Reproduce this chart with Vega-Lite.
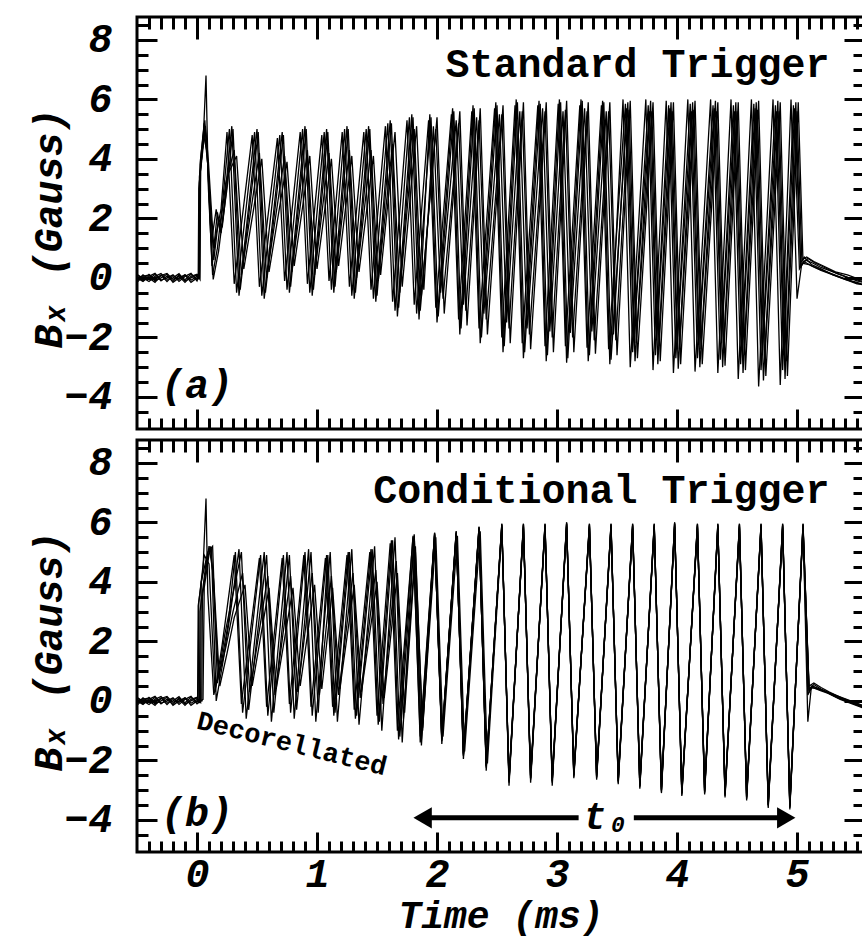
{
"$schema":"https://vega.github.io/schema/vega-lite/v6.json",
"background":"white",
"padding":{"left":27,"top":14,"right":0,"bottom":0},
"spacing":5,
"config":{"view":{"stroke":"black","strokeWidth":3},
"axis":{"grid":false,"domain":false,"tickColor":"black","tickWidth":3,"labelColor":"black","titleColor":"black","labelFont":"Liberation Mono","titleFont":"Liberation Mono","labelFontSize":40,"labelFontWeight":"bold","labelFontStyle":"italic","titleFontSize":40,"titleFontWeight":"bold","titleFontStyle":"italic","labelFlush":false,"labelOverlap":false},
"text":{"font":"Liberation Mono","color":"black"}},
"datasets":{
"a":[
{"s":1,"t":-0.5,"b":0.05},{"s":1,"t":-0.45,"b":-0.1},{"s":1,"t":-0.4,"b":0.12},{"s":1,"t":-0.35,"b":-0.05},{"s":1,"t":-0.3,"b":0.1},{"s":1,"t":-0.25,"b":-0.12},{"s":1,"t":-0.2,"b":0.08},{"s":1,"t":-0.15,"b":-0.05},{"s":1,"t":-0.1,"b":0.1},{"s":1,"t":-0.05,"b":-0.08},{"s":1,"t":0,"b":0.05},
{"s":1,"t":0.015,"b":0},{"s":1,"t":0.02,"b":3.4},{"s":1,"t":0.05,"b":4.5},{"s":1,"t":0.075,"b":6.8},{"s":1,"t":0.095,"b":3},{"s":1,"t":0.13,"b":0.1},{"s":1,"t":0.17,"b":1},{"s":1,"t":0.21,"b":2.4},
{"s":1,"t":0.27,"b":5},{"s":1,"t":0.33,"b":-0.5},{"s":1,"t":0.48,"b":4.9},{"s":1,"t":0.54,"b":-0.6},{"s":1,"t":0.69,"b":4.8},{"s":1,"t":0.75,"b":-0.4},{"s":1,"t":0.88,"b":5},{"s":1,"t":0.94,"b":-0.5},{"s":1,"t":1.06,"b":4.9},{"s":1,"t":1.12,"b":-0.4},{"s":1,"t":1.23,"b":5},{"s":1,"t":1.29,"b":-0.6},{"s":1,"t":1.41,"b":5},{"s":1,"t":1.47,"b":-0.7},{"s":1,"t":1.59,"b":5.2},{"s":1,"t":1.65,"b":-1.1},{"s":1,"t":1.77,"b":5.4},{"s":1,"t":1.83,"b":-1.2},{"s":1,"t":1.95,"b":5.4},{"s":1,"t":2.01,"b":-1.3},{"s":1,"t":2.14,"b":5.6},{"s":1,"t":2.2,"b":-1.7},{"s":1,"t":2.31,"b":5.7},{"s":1,"t":2.37,"b":-2},{"s":1,"t":2.5,"b":5.8},{"s":1,"t":2.56,"b":-2.3},{"s":1,"t":2.67,"b":5.9},{"s":1,"t":2.73,"b":-2.5},{"s":1,"t":2.86,"b":5.85},{"s":1,"t":2.92,"b":-2.6},{"s":1,"t":3.03,"b":5.9},{"s":1,"t":3.09,"b":-2.7},{"s":1,"t":3.21,"b":5.95},{"s":1,"t":3.27,"b":-2.6},{"s":1,"t":3.39,"b":5.9},{"s":1,"t":3.45,"b":-2.75},{"s":1,"t":3.59,"b":5.9},{"s":1,"t":3.65,"b":-2.8},{"s":1,"t":3.78,"b":5.95},{"s":1,"t":3.84,"b":-2.9},{"s":1,"t":3.95,"b":5.9},{"s":1,"t":4.01,"b":-3.05},{"s":1,"t":4.13,"b":5.9},{"s":1,"t":4.19,"b":-3},{"s":1,"t":4.32,"b":5.95},{"s":1,"t":4.38,"b":-3},{"s":1,"t":4.49,"b":5.9},{"s":1,"t":4.55,"b":-3.2},{"s":1,"t":4.66,"b":5.9},{"s":1,"t":4.72,"b":-3.45},{"s":1,"t":4.84,"b":5.95},{"s":1,"t":4.9,"b":-3.4},{"s":1,"t":4.99,"b":5.9},
{"s":1,"t":5.03,"b":0.4},{"s":1,"t":5.07,"b":0.6},{"s":1,"t":5.13,"b":0.5},{"s":1,"t":5.2,"b":0.35},{"s":1,"t":5.3,"b":0.2},{"s":1,"t":5.4,"b":0.05},{"s":1,"t":5.5,"b":-0.1},{"s":1,"t":5.6,"b":-0.2},

{"s":2,"t":-0.5,"b":-0.08},{"s":2,"t":-0.45,"b":0.1},{"s":2,"t":-0.4,"b":-0.05},{"s":2,"t":-0.35,"b":0.12},{"s":2,"t":-0.3,"b":-0.1},{"s":2,"t":-0.25,"b":0.06},{"s":2,"t":-0.2,"b":-0.12},{"s":2,"t":-0.15,"b":0.1},{"s":2,"t":-0.1,"b":-0.06},{"s":2,"t":-0.05,"b":0.12},{"s":2,"t":0,"b":-0.05},
{"s":2,"t":0.02,"b":0.05},{"s":2,"t":0.025,"b":3.8},{"s":2,"t":0.06,"b":5.2},{"s":2,"t":0.08,"b":4.6},{"s":2,"t":0.12,"b":1.2},{"s":2,"t":0.16,"b":2.3},{"s":2,"t":0.19,"b":1.6},{"s":2,"t":0.24,"b":3.2},
{"s":2,"t":0.31,"b":4.3},{"s":2,"t":0.37,"b":0.1},{"s":2,"t":0.52,"b":4.2},{"s":2,"t":0.58,"b":0},{"s":2,"t":0.73,"b":4.1},{"s":2,"t":0.79,"b":0.2},{"s":2,"t":0.92,"b":4.3},{"s":2,"t":0.98,"b":0.1},{"s":2,"t":1.1,"b":4.2},{"s":2,"t":1.16,"b":0.2},{"s":2,"t":1.27,"b":4.3},{"s":2,"t":1.33,"b":0},{"s":2,"t":1.45,"b":4.3},{"s":2,"t":1.51,"b":-0.1},{"s":2,"t":1.63,"b":4.5},{"s":2,"t":1.69,"b":-0.5},{"s":2,"t":1.81,"b":5},{"s":2,"t":1.87,"b":-0.6},{"s":2,"t":1.99,"b":5},{"s":2,"t":2.05,"b":-0.7},{"s":2,"t":2.18,"b":5.2},{"s":2,"t":2.24,"b":-1.1},{"s":2,"t":2.35,"b":5.3},{"s":2,"t":2.41,"b":-1.4},{"s":2,"t":2.54,"b":5.5},{"s":2,"t":2.6,"b":-1.7},{"s":2,"t":2.71,"b":5.6},{"s":2,"t":2.77,"b":-1.9},{"s":2,"t":2.9,"b":5.6},{"s":2,"t":2.96,"b":-2},{"s":2,"t":3.07,"b":5.65},{"s":2,"t":3.13,"b":-2},{"s":2,"t":3.25,"b":5.6},{"s":2,"t":3.31,"b":-2.1},{"s":2,"t":3.43,"b":5.6},{"s":2,"t":3.49,"b":-2.1},{"s":2,"t":3.6,"b":5.65},{"s":2,"t":3.66,"b":-2.2},{"s":2,"t":3.79,"b":5.6},{"s":2,"t":3.85,"b":-2.3},{"s":2,"t":3.96,"b":5.6},{"s":2,"t":4.02,"b":-2.4},{"s":2,"t":4.14,"b":5.65},{"s":2,"t":4.2,"b":-2.4},{"s":2,"t":4.33,"b":5.6},{"s":2,"t":4.39,"b":-2.45},{"s":2,"t":4.5,"b":5.6},{"s":2,"t":4.56,"b":-2.6},{"s":2,"t":4.67,"b":5.65},{"s":2,"t":4.73,"b":-2.8},{"s":2,"t":4.85,"b":5.6},{"s":2,"t":4.91,"b":-2.8},{"s":2,"t":5,"b":5.6},
{"s":2,"t":5.04,"b":0.6},{"s":2,"t":5.08,"b":0.7},{"s":2,"t":5.14,"b":0.55},{"s":2,"t":5.22,"b":0.4},{"s":2,"t":5.32,"b":0.2},{"s":2,"t":5.42,"b":0.1},{"s":2,"t":5.52,"b":-0.05},{"s":2,"t":5.6,"b":-0.15},

{"s":3,"t":-0.5,"b":0.1},{"s":3,"t":-0.45,"b":0},{"s":3,"t":-0.4,"b":-0.12},{"s":3,"t":-0.35,"b":0.05},{"s":3,"t":-0.3,"b":0.15},{"s":3,"t":-0.25,"b":-0.05},{"s":3,"t":-0.2,"b":0},{"s":3,"t":-0.15,"b":0.14},{"s":3,"t":-0.1,"b":-0.1},{"s":3,"t":-0.05,"b":0},{"s":3,"t":0,"b":0.1},
{"s":3,"t":0.01,"b":-0.05},{"s":3,"t":0.015,"b":3},{"s":3,"t":0.06,"b":5},{"s":3,"t":0.09,"b":3.8},{"s":3,"t":0.135,"b":-0.05},{"s":3,"t":0.18,"b":0.9},{"s":3,"t":0.22,"b":2.2},
{"s":3,"t":0.29,"b":5.1},{"s":3,"t":0.35,"b":-0.6},{"s":3,"t":0.5,"b":5},{"s":3,"t":0.56,"b":-0.7},{"s":3,"t":0.71,"b":4.9},{"s":3,"t":0.77,"b":-0.5},{"s":3,"t":0.9,"b":5.1},{"s":3,"t":0.96,"b":-0.6},{"s":3,"t":1.08,"b":5},{"s":3,"t":1.14,"b":-0.5},{"s":3,"t":1.25,"b":5.1},{"s":3,"t":1.31,"b":-0.7},{"s":3,"t":1.43,"b":5.1},{"s":3,"t":1.49,"b":-0.8},{"s":3,"t":1.61,"b":5.3},{"s":3,"t":1.67,"b":-1.3},{"s":3,"t":1.79,"b":5.5},{"s":3,"t":1.85,"b":-1.4},{"s":3,"t":1.94,"b":5.5},{"s":3,"t":2,"b":-1.5},{"s":3,"t":2.13,"b":5.7},{"s":3,"t":2.19,"b":-1.9},{"s":3,"t":2.3,"b":5.8},{"s":3,"t":2.36,"b":-2.2},{"s":3,"t":2.49,"b":5.9},{"s":3,"t":2.55,"b":-2.5},{"s":3,"t":2.66,"b":6},{"s":3,"t":2.72,"b":-2.7},{"s":3,"t":2.85,"b":5.95},{"s":3,"t":2.91,"b":-2.8},{"s":3,"t":3.02,"b":6},{"s":3,"t":3.08,"b":-2.85},{"s":3,"t":3.2,"b":6},{"s":3,"t":3.26,"b":-2.8},{"s":3,"t":3.38,"b":5.95},{"s":3,"t":3.44,"b":-2.9},{"s":3,"t":3.55,"b":6},{"s":3,"t":3.61,"b":-3},{"s":3,"t":3.74,"b":6},{"s":3,"t":3.8,"b":-3.1},{"s":3,"t":3.91,"b":5.95},{"s":3,"t":3.97,"b":-3.2},{"s":3,"t":4.09,"b":6},{"s":3,"t":4.15,"b":-3.15},{"s":3,"t":4.28,"b":6},{"s":3,"t":4.34,"b":-3.2},{"s":3,"t":4.45,"b":6},{"s":3,"t":4.51,"b":-3.4},{"s":3,"t":4.62,"b":6},{"s":3,"t":4.68,"b":-3.65},{"s":3,"t":4.8,"b":6},{"s":3,"t":4.86,"b":-3.6},{"s":3,"t":4.95,"b":6},
{"s":3,"t":5,"b":-0.7},{"s":3,"t":5.04,"b":0.5},{"s":3,"t":5.1,"b":0.45},{"s":3,"t":5.18,"b":0.3},{"s":3,"t":5.28,"b":0.15},{"s":3,"t":5.38,"b":0},{"s":3,"t":5.48,"b":-0.15},{"s":3,"t":5.6,"b":-0.3},

{"s":4,"t":-0.5,"b":-0.15},{"s":4,"t":-0.45,"b":0.05},{"s":4,"t":-0.4,"b":0.1},{"s":4,"t":-0.35,"b":-0.1},{"s":4,"t":-0.3,"b":0},{"s":4,"t":-0.25,"b":0.12},{"s":4,"t":-0.2,"b":-0.15},{"s":4,"t":-0.15,"b":0},{"s":4,"t":-0.1,"b":0.1},{"s":4,"t":-0.05,"b":-0.15},{"s":4,"t":0,"b":0},
{"s":4,"t":0.02,"b":0},{"s":4,"t":0.03,"b":4},{"s":4,"t":0.065,"b":5.3},{"s":4,"t":0.1,"b":3.2},{"s":4,"t":0.14,"b":0.6},{"s":4,"t":0.18,"b":2},{"s":4,"t":0.21,"b":1.7},{"s":4,"t":0.26,"b":3.5},
{"s":4,"t":0.33,"b":4.1},{"s":4,"t":0.39,"b":0.3},{"s":4,"t":0.54,"b":4},{"s":4,"t":0.6,"b":0.2},{"s":4,"t":0.75,"b":3.9},{"s":4,"t":0.81,"b":0.4},{"s":4,"t":0.94,"b":4.1},{"s":4,"t":1,"b":0.3},{"s":4,"t":1.12,"b":4},{"s":4,"t":1.18,"b":0.4},{"s":4,"t":1.29,"b":4.1},{"s":4,"t":1.35,"b":0.2},{"s":4,"t":1.47,"b":4.1},{"s":4,"t":1.53,"b":0.1},{"s":4,"t":1.65,"b":4.9},{"s":4,"t":1.71,"b":-0.3},{"s":4,"t":1.83,"b":5.1},{"s":4,"t":1.89,"b":-0.4},{"s":4,"t":1.97,"b":5.1},{"s":4,"t":2.03,"b":-0.5},{"s":4,"t":2.16,"b":5.3},{"s":4,"t":2.22,"b":-0.9},{"s":4,"t":2.33,"b":5.4},{"s":4,"t":2.39,"b":-1.2},{"s":4,"t":2.52,"b":5.5},{"s":4,"t":2.58,"b":-1.5},{"s":4,"t":2.69,"b":5.6},{"s":4,"t":2.75,"b":-1.7},{"s":4,"t":2.88,"b":5.7},{"s":4,"t":2.94,"b":-1.8},{"s":4,"t":3.05,"b":5.6},{"s":4,"t":3.11,"b":-1.85},{"s":4,"t":3.23,"b":5.7},{"s":4,"t":3.29,"b":-1.8},{"s":4,"t":3.41,"b":5.6},{"s":4,"t":3.47,"b":-1.9},{"s":4,"t":3.58,"b":5.7},{"s":4,"t":3.64,"b":-2},{"s":4,"t":3.77,"b":5.6},{"s":4,"t":3.83,"b":-2.1},{"s":4,"t":3.94,"b":5.7},{"s":4,"t":4,"b":-2.2},{"s":4,"t":4.12,"b":5.6},{"s":4,"t":4.18,"b":-2.25},{"s":4,"t":4.31,"b":5.7},{"s":4,"t":4.37,"b":-2.2},{"s":4,"t":4.48,"b":5.6},{"s":4,"t":4.54,"b":-2.4},{"s":4,"t":4.65,"b":5.7},{"s":4,"t":4.71,"b":-2.6},{"s":4,"t":4.83,"b":5.6},{"s":4,"t":4.89,"b":-2.6},{"s":4,"t":4.98,"b":5.7},
{"s":4,"t":5.03,"b":0.5},{"s":4,"t":5.06,"b":0.7},{"s":4,"t":5.12,"b":0.45},{"s":4,"t":5.2,"b":0.3},{"s":4,"t":5.3,"b":0.1},{"s":4,"t":5.4,"b":-0.05},{"s":4,"t":5.5,"b":-0.2},{"s":4,"t":5.6,"b":-0.25},

{"s":5,"t":-0.5,"b":0},{"s":5,"t":-0.45,"b":-0.12},{"s":5,"t":-0.4,"b":0.05},{"s":5,"t":-0.35,"b":0.15},{"s":5,"t":-0.3,"b":-0.08},{"s":5,"t":-0.25,"b":0},{"s":5,"t":-0.2,"b":0.1},{"s":5,"t":-0.15,"b":-0.12},{"s":5,"t":-0.1,"b":0.05},{"s":5,"t":-0.05,"b":0.15},{"s":5,"t":0,"b":-0.1},
{"s":5,"t":0.015,"b":0.05},{"s":5,"t":0.02,"b":3.2},{"s":5,"t":0.055,"b":4.8},{"s":5,"t":0.085,"b":4.2},{"s":5,"t":0.125,"b":0.4},{"s":5,"t":0.16,"b":1.5},{"s":5,"t":0.2,"b":2.3},
{"s":5,"t":0.25,"b":4.9},{"s":5,"t":0.31,"b":-0.2},{"s":5,"t":0.46,"b":4.8},{"s":5,"t":0.52,"b":-0.3},{"s":5,"t":0.67,"b":4.7},{"s":5,"t":0.73,"b":-0.1},{"s":5,"t":0.86,"b":4.9},{"s":5,"t":0.92,"b":-0.2},{"s":5,"t":1.04,"b":4.8},{"s":5,"t":1.1,"b":-0.1},{"s":5,"t":1.21,"b":4.9},{"s":5,"t":1.27,"b":-0.3},{"s":5,"t":1.39,"b":4.9},{"s":5,"t":1.45,"b":-0.4},{"s":5,"t":1.57,"b":5.1},{"s":5,"t":1.63,"b":-0.8},{"s":5,"t":1.75,"b":5.3},{"s":5,"t":1.81,"b":-0.9},{"s":5,"t":1.93,"b":5.3},{"s":5,"t":1.99,"b":-1},{"s":5,"t":2.12,"b":5.5},{"s":5,"t":2.18,"b":-1.4},{"s":5,"t":2.29,"b":5.6},{"s":5,"t":2.35,"b":-1.7},{"s":5,"t":2.48,"b":5.7},{"s":5,"t":2.54,"b":-2},{"s":5,"t":2.65,"b":5.8},{"s":5,"t":2.71,"b":-2.2},{"s":5,"t":2.84,"b":5.8},{"s":5,"t":2.9,"b":-2.3},{"s":5,"t":3.01,"b":5.85},{"s":5,"t":3.07,"b":-2.3},{"s":5,"t":3.19,"b":5.8},{"s":5,"t":3.25,"b":-2.35},{"s":5,"t":3.37,"b":5.8},{"s":5,"t":3.43,"b":-2.4},{"s":5,"t":3.57,"b":5.85},{"s":5,"t":3.63,"b":-2.5},{"s":5,"t":3.76,"b":5.8},{"s":5,"t":3.82,"b":-2.6},{"s":5,"t":3.93,"b":5.8},{"s":5,"t":3.99,"b":-2.7},{"s":5,"t":4.11,"b":5.85},{"s":5,"t":4.17,"b":-2.7},{"s":5,"t":4.3,"b":5.8},{"s":5,"t":4.36,"b":-2.75},{"s":5,"t":4.47,"b":5.8},{"s":5,"t":4.53,"b":-2.9},{"s":5,"t":4.64,"b":5.85},{"s":5,"t":4.7,"b":-3.1},{"s":5,"t":4.82,"b":5.8},{"s":5,"t":4.88,"b":-3.1},{"s":5,"t":4.97,"b":5.8},
{"s":5,"t":5.02,"b":0.3},{"s":5,"t":5.06,"b":0.55},{"s":5,"t":5.12,"b":0.4},{"s":5,"t":5.2,"b":0.25},{"s":5,"t":5.3,"b":0.1},{"s":5,"t":5.4,"b":-0.05},{"s":5,"t":5.5,"b":-0.15},{"s":5,"t":5.6,"b":-0.3},

{"s":6,"t":-0.5,"b":0.12},{"s":6,"t":-0.45,"b":-0.05},{"s":6,"t":-0.4,"b":0},{"s":6,"t":-0.35,"b":-0.15},{"s":6,"t":-0.3,"b":0.08},{"s":6,"t":-0.25,"b":0.15},{"s":6,"t":-0.2,"b":-0.05},{"s":6,"t":-0.15,"b":0.05},{"s":6,"t":-0.1,"b":-0.15},{"s":6,"t":-0.05,"b":0.05},{"s":6,"t":0,"b":0.12},
{"s":6,"t":0.025,"b":-0.05},{"s":6,"t":0.03,"b":3.6},{"s":6,"t":0.07,"b":5.1},{"s":6,"t":0.095,"b":3.9},{"s":6,"t":0.14,"b":1},{"s":6,"t":0.17,"b":2.2},{"s":6,"t":0.2,"b":1.5},{"s":6,"t":0.25,"b":3},
{"s":6,"t":0.3,"b":5},{"s":6,"t":0.36,"b":-0.4},{"s":6,"t":0.51,"b":4.9},{"s":6,"t":0.57,"b":-0.5},{"s":6,"t":0.72,"b":4.8},{"s":6,"t":0.78,"b":-0.3},{"s":6,"t":0.91,"b":5},{"s":6,"t":0.97,"b":-0.4},{"s":6,"t":1.09,"b":4.9},{"s":6,"t":1.15,"b":-0.3},{"s":6,"t":1.26,"b":5},{"s":6,"t":1.32,"b":-0.5},{"s":6,"t":1.44,"b":5},{"s":6,"t":1.5,"b":-0.6},{"s":6,"t":1.62,"b":5.2},{"s":6,"t":1.68,"b":-1},{"s":6,"t":1.8,"b":5.4},{"s":6,"t":1.86,"b":-1.1},{"s":6,"t":2,"b":5.4},{"s":6,"t":2.06,"b":-1.2},{"s":6,"t":2.19,"b":5.6},{"s":6,"t":2.25,"b":-1.6},{"s":6,"t":2.36,"b":5.7},{"s":6,"t":2.42,"b":-1.9},{"s":6,"t":2.55,"b":5.8},{"s":6,"t":2.61,"b":-2.2},{"s":6,"t":2.72,"b":5.9},{"s":6,"t":2.78,"b":-2.4},{"s":6,"t":2.91,"b":5.9},{"s":6,"t":2.97,"b":-2.5},{"s":6,"t":3.08,"b":5.95},{"s":6,"t":3.14,"b":-2.5},{"s":6,"t":3.26,"b":5.9},{"s":6,"t":3.32,"b":-2.55},{"s":6,"t":3.44,"b":5.9},{"s":6,"t":3.5,"b":-2.6},{"s":6,"t":3.61,"b":5.95},{"s":6,"t":3.67,"b":-2.7},{"s":6,"t":3.8,"b":5.9},{"s":6,"t":3.86,"b":-2.8},{"s":6,"t":3.97,"b":5.9},{"s":6,"t":4.03,"b":-2.9},{"s":6,"t":4.15,"b":5.95},{"s":6,"t":4.21,"b":-2.9},{"s":6,"t":4.34,"b":5.9},{"s":6,"t":4.4,"b":-2.95},{"s":6,"t":4.51,"b":5.9},{"s":6,"t":4.57,"b":-3.1},{"s":6,"t":4.68,"b":5.95},{"s":6,"t":4.74,"b":-3.3},{"s":6,"t":4.86,"b":5.9},{"s":6,"t":4.92,"b":-3.3},{"s":6,"t":5.01,"b":5.9},
{"s":6,"t":5.05,"b":0.5},{"s":6,"t":5.09,"b":0.65},{"s":6,"t":5.15,"b":0.5},{"s":6,"t":5.23,"b":0.35},{"s":6,"t":5.33,"b":0.15},{"s":6,"t":5.43,"b":0},{"s":6,"t":5.53,"b":-0.1},{"s":6,"t":5.6,"b":-0.2}
],
"b":[
{"s":1,"t":-0.5,"b":-0.08},{"s":1,"t":-0.45,"b":0.1},{"s":1,"t":-0.4,"b":-0.05},{"s":1,"t":-0.35,"b":0.12},{"s":1,"t":-0.3,"b":-0.1},{"s":1,"t":-0.25,"b":0.06},{"s":1,"t":-0.2,"b":-0.12},{"s":1,"t":-0.15,"b":0.1},{"s":1,"t":-0.1,"b":-0.06},{"s":1,"t":-0.05,"b":0.12},{"s":1,"t":0,"b":-0.05},
{"s":1,"t":0.005,"b":0},{"s":1,"t":0.01,"b":3.2},{"s":1,"t":0.05,"b":4.4},{"s":1,"t":0.075,"b":6.8},{"s":1,"t":0.09,"b":3.6},{"s":1,"t":0.14,"b":0.2},{"s":1,"t":0.2,"b":1.2},{"s":1,"t":0.26,"b":2.6},
{"s":1,"t":0.32,"b":5},{"s":1,"t":0.38,"b":-0.4},{"s":1,"t":0.53,"b":4.9},{"s":1,"t":0.59,"b":-0.5},{"s":1,"t":0.72,"b":4.9},{"s":1,"t":0.78,"b":-0.4},{"s":1,"t":0.9,"b":5},{"s":1,"t":0.96,"b":-0.5},{"s":1,"t":1.08,"b":4.9},{"s":1,"t":1.14,"b":-0.5},{"s":1,"t":1.26,"b":5},{"s":1,"t":1.32,"b":-0.6},{"s":1,"t":1.45,"b":5.1},{"s":1,"t":1.51,"b":-0.8},{"s":1,"t":1.62,"b":5.4},{"s":1,"t":1.68,"b":-1.3},{"s":1,"t":1.8,"b":5.55},{"s":1,"t":1.86,"b":-1.4},{"s":1,"t":1.98,"b":5.6},{"s":1,"t":2.04,"b":-1.35},{"s":1,"t":2.16,"b":5.65},{"s":1,"t":2.22,"b":-1.85},{"s":1,"t":2.35,"b":5.8},{"s":1,"t":2.41,"b":-2.25},{"s":1,"t":2.54,"b":5.9},{"s":1,"t":2.6,"b":-2.75},{"s":1,"t":2.72,"b":5.9},{"s":1,"t":2.78,"b":-2.65},{"s":1,"t":2.9,"b":5.9},{"s":1,"t":2.96,"b":-2.75},{"s":1,"t":3.08,"b":5.95},{"s":1,"t":3.14,"b":-2.55},{"s":1,"t":3.27,"b":5.9},{"s":1,"t":3.33,"b":-2.6},{"s":1,"t":3.45,"b":5.9},{"s":1,"t":3.51,"b":-2.75},{"s":1,"t":3.63,"b":5.9},{"s":1,"t":3.69,"b":-2.9},{"s":1,"t":3.81,"b":5.9},{"s":1,"t":3.87,"b":-3.05},{"s":1,"t":3.98,"b":5.95},{"s":1,"t":4.04,"b":-3.15},{"s":1,"t":4.17,"b":5.9},{"s":1,"t":4.23,"b":-3.1},{"s":1,"t":4.34,"b":5.9},{"s":1,"t":4.4,"b":-3.2},{"s":1,"t":4.52,"b":5.9},{"s":1,"t":4.58,"b":-3.3},{"s":1,"t":4.7,"b":5.9},{"s":1,"t":4.76,"b":-3.55},{"s":1,"t":4.88,"b":5.9},{"s":1,"t":4.94,"b":-3.6},{"s":1,"t":5.05,"b":5.9},
{"s":1,"t":5.09,"b":-0.7},{"s":1,"t":5.12,"b":0.5},{"s":1,"t":5.16,"b":0.45},{"s":1,"t":5.22,"b":0.35},{"s":1,"t":5.32,"b":0.15},{"s":1,"t":5.42,"b":0},{"s":1,"t":5.52,"b":-0.15},{"s":1,"t":5.6,"b":-0.3},

{"s":2,"t":-0.5,"b":0.05},{"s":2,"t":-0.45,"b":-0.1},{"s":2,"t":-0.4,"b":0.12},{"s":2,"t":-0.35,"b":-0.05},{"s":2,"t":-0.3,"b":0.1},{"s":2,"t":-0.25,"b":-0.12},{"s":2,"t":-0.2,"b":0.08},{"s":2,"t":-0.15,"b":-0.05},{"s":2,"t":-0.1,"b":0.1},{"s":2,"t":-0.05,"b":-0.08},{"s":2,"t":0,"b":0.05},
{"s":2,"t":0.04,"b":0},{"s":2,"t":0.045,"b":3.5},{"s":2,"t":0.1,"b":5.2},{"s":2,"t":0.13,"b":4.4},{"s":2,"t":0.18,"b":0.8},{"s":2,"t":0.24,"b":1.8},{"s":2,"t":0.3,"b":3},
{"s":2,"t":0.38,"b":4.3},{"s":2,"t":0.44,"b":0.3},{"s":2,"t":0.59,"b":4.2},{"s":2,"t":0.65,"b":0.2},{"s":2,"t":0.78,"b":4.2},{"s":2,"t":0.84,"b":0.3},{"s":2,"t":0.96,"b":4.3},{"s":2,"t":1.02,"b":0.2},{"s":2,"t":1.12,"b":4.2},{"s":2,"t":1.18,"b":0.2},{"s":2,"t":1.3,"b":4.3},{"s":2,"t":1.36,"b":0.1},{"s":2,"t":1.49,"b":4.4},{"s":2,"t":1.55,"b":-0.1},{"s":2,"t":1.66,"b":4.7},{"s":2,"t":1.72,"b":-0.6},{"s":2,"t":1.82,"b":5.2},{"s":2,"t":1.88,"b":-1},{"s":2,"t":1.98,"b":5.55},{"s":2,"t":2.04,"b":-1.25},{"s":2,"t":2.16,"b":5.6},{"s":2,"t":2.22,"b":-1.75},{"s":2,"t":2.35,"b":5.75},{"s":2,"t":2.41,"b":-2.15},{"s":2,"t":2.54,"b":5.85},{"s":2,"t":2.6,"b":-2.65},{"s":2,"t":2.72,"b":5.85},{"s":2,"t":2.78,"b":-2.55},{"s":2,"t":2.9,"b":5.85},{"s":2,"t":2.96,"b":-2.65},{"s":2,"t":3.08,"b":5.9},{"s":2,"t":3.14,"b":-2.45},{"s":2,"t":3.27,"b":5.85},{"s":2,"t":3.33,"b":-2.5},{"s":2,"t":3.45,"b":5.85},{"s":2,"t":3.51,"b":-2.65},{"s":2,"t":3.63,"b":5.85},{"s":2,"t":3.69,"b":-2.8},{"s":2,"t":3.81,"b":5.85},{"s":2,"t":3.87,"b":-2.95},{"s":2,"t":3.98,"b":5.9},{"s":2,"t":4.04,"b":-3.05},{"s":2,"t":4.17,"b":5.85},{"s":2,"t":4.23,"b":-3},{"s":2,"t":4.34,"b":5.85},{"s":2,"t":4.4,"b":-3.1},{"s":2,"t":4.52,"b":5.85},{"s":2,"t":4.58,"b":-3.2},{"s":2,"t":4.7,"b":5.85},{"s":2,"t":4.76,"b":-3.45},{"s":2,"t":4.88,"b":5.85},{"s":2,"t":4.94,"b":-3.5},{"s":2,"t":5.05,"b":5.85},
{"s":2,"t":5.1,"b":0.3},{"s":2,"t":5.13,"b":0.5},{"s":2,"t":5.18,"b":0.4},{"s":2,"t":5.25,"b":0.3},{"s":2,"t":5.35,"b":0.1},{"s":2,"t":5.45,"b":-0.05},{"s":2,"t":5.55,"b":-0.2},{"s":2,"t":5.6,"b":-0.25},

{"s":3,"t":-0.5,"b":-0.15},{"s":3,"t":-0.45,"b":0.05},{"s":3,"t":-0.4,"b":0.1},{"s":3,"t":-0.35,"b":-0.1},{"s":3,"t":-0.3,"b":0},{"s":3,"t":-0.25,"b":0.12},{"s":3,"t":-0.2,"b":-0.15},{"s":3,"t":-0.15,"b":0},{"s":3,"t":-0.1,"b":0.1},{"s":3,"t":-0.05,"b":-0.15},{"s":3,"t":0,"b":0},
{"s":3,"t":0.02,"b":-0.05},{"s":3,"t":0.025,"b":3},{"s":3,"t":0.08,"b":4.8},{"s":3,"t":0.12,"b":5.1},{"s":3,"t":0.16,"b":0},{"s":3,"t":0.22,"b":1.4},{"s":3,"t":0.28,"b":3},
{"s":3,"t":0.35,"b":5.1},{"s":3,"t":0.41,"b":-0.6},{"s":3,"t":0.56,"b":5},{"s":3,"t":0.62,"b":-0.7},{"s":3,"t":0.75,"b":5},{"s":3,"t":0.81,"b":-0.6},{"s":3,"t":0.93,"b":5.1},{"s":3,"t":0.99,"b":-0.7},{"s":3,"t":1.11,"b":5},{"s":3,"t":1.17,"b":-0.7},{"s":3,"t":1.29,"b":5.1},{"s":3,"t":1.35,"b":-0.8},{"s":3,"t":1.48,"b":5.2},{"s":3,"t":1.54,"b":-1},{"s":3,"t":1.65,"b":5.5},{"s":3,"t":1.71,"b":-1.4},{"s":3,"t":1.81,"b":5.6},{"s":3,"t":1.87,"b":-1.5},{"s":3,"t":1.98,"b":5.65},{"s":3,"t":2.04,"b":-1.45},{"s":3,"t":2.16,"b":5.7},{"s":3,"t":2.22,"b":-1.95},{"s":3,"t":2.35,"b":5.85},{"s":3,"t":2.41,"b":-2.35},{"s":3,"t":2.54,"b":5.95},{"s":3,"t":2.6,"b":-2.85},{"s":3,"t":2.72,"b":5.95},{"s":3,"t":2.78,"b":-2.75},{"s":3,"t":2.9,"b":5.95},{"s":3,"t":2.96,"b":-2.85},{"s":3,"t":3.08,"b":6},{"s":3,"t":3.14,"b":-2.6},{"s":3,"t":3.27,"b":5.95},{"s":3,"t":3.33,"b":-2.65},{"s":3,"t":3.45,"b":5.95},{"s":3,"t":3.51,"b":-2.8},{"s":3,"t":3.63,"b":5.95},{"s":3,"t":3.69,"b":-2.95},{"s":3,"t":3.81,"b":5.95},{"s":3,"t":3.87,"b":-3.1},{"s":3,"t":3.98,"b":6},{"s":3,"t":4.04,"b":-3.2},{"s":3,"t":4.17,"b":5.95},{"s":3,"t":4.23,"b":-3.15},{"s":3,"t":4.34,"b":5.95},{"s":3,"t":4.4,"b":-3.25},{"s":3,"t":4.52,"b":5.95},{"s":3,"t":4.58,"b":-3.35},{"s":3,"t":4.7,"b":5.95},{"s":3,"t":4.76,"b":-3.6},{"s":3,"t":4.88,"b":5.95},{"s":3,"t":4.94,"b":-3.65},{"s":3,"t":5.05,"b":5.95},
{"s":3,"t":5.09,"b":0.2},{"s":3,"t":5.12,"b":0.45},{"s":3,"t":5.17,"b":0.4},{"s":3,"t":5.24,"b":0.3},{"s":3,"t":5.34,"b":0.1},{"s":3,"t":5.44,"b":-0.05},{"s":3,"t":5.54,"b":-0.2},{"s":3,"t":5.6,"b":-0.3},

{"s":4,"t":-0.5,"b":0},{"s":4,"t":-0.45,"b":-0.12},{"s":4,"t":-0.4,"b":0.05},{"s":4,"t":-0.35,"b":0.15},{"s":4,"t":-0.3,"b":-0.08},{"s":4,"t":-0.25,"b":0},{"s":4,"t":-0.2,"b":0.1},{"s":4,"t":-0.15,"b":-0.12},{"s":4,"t":-0.1,"b":0.05},{"s":4,"t":-0.05,"b":0.15},{"s":4,"t":0,"b":-0.1},
{"s":4,"t":0.05,"b":0.05},{"s":4,"t":0.06,"b":3.8},{"s":4,"t":0.11,"b":5.2},{"s":4,"t":0.14,"b":4},{"s":4,"t":0.19,"b":0.5},{"s":4,"t":0.25,"b":1.6},{"s":4,"t":0.31,"b":2.8},
{"s":4,"t":0.4,"b":3.9},{"s":4,"t":0.46,"b":0.5},{"s":4,"t":0.6,"b":3.8},{"s":4,"t":0.66,"b":0.4},{"s":4,"t":0.8,"b":3.8},{"s":4,"t":0.86,"b":0.5},{"s":4,"t":0.98,"b":3.9},{"s":4,"t":1.04,"b":0.4},{"s":4,"t":1.13,"b":3.8},{"s":4,"t":1.19,"b":0.4},{"s":4,"t":1.31,"b":3.9},{"s":4,"t":1.37,"b":0.3},{"s":4,"t":1.5,"b":4},{"s":4,"t":1.56,"b":0.1},{"s":4,"t":1.67,"b":4.3},{"s":4,"t":1.73,"b":-0.4},{"s":4,"t":1.82,"b":5},{"s":4,"t":1.88,"b":-0.9},{"s":4,"t":1.99,"b":5.5},{"s":4,"t":2.05,"b":-1.2},{"s":4,"t":2.17,"b":5.55},{"s":4,"t":2.23,"b":-1.7},{"s":4,"t":2.36,"b":5.7},{"s":4,"t":2.42,"b":-2.1},{"s":4,"t":2.54,"b":5.8},{"s":4,"t":2.6,"b":-2.6},{"s":4,"t":2.72,"b":5.8},{"s":4,"t":2.78,"b":-2.5},{"s":4,"t":2.9,"b":5.8},{"s":4,"t":2.96,"b":-2.6},{"s":4,"t":3.08,"b":5.85},{"s":4,"t":3.14,"b":-2.4},{"s":4,"t":3.27,"b":5.8},{"s":4,"t":3.33,"b":-2.45},{"s":4,"t":3.45,"b":5.8},{"s":4,"t":3.51,"b":-2.6},{"s":4,"t":3.63,"b":5.8},{"s":4,"t":3.69,"b":-2.75},{"s":4,"t":3.81,"b":5.8},{"s":4,"t":3.87,"b":-2.9},{"s":4,"t":3.98,"b":5.85},{"s":4,"t":4.04,"b":-3},{"s":4,"t":4.17,"b":5.8},{"s":4,"t":4.23,"b":-2.95},{"s":4,"t":4.34,"b":5.8},{"s":4,"t":4.4,"b":-3.05},{"s":4,"t":4.52,"b":5.8},{"s":4,"t":4.58,"b":-3.15},{"s":4,"t":4.7,"b":5.8},{"s":4,"t":4.76,"b":-3.4},{"s":4,"t":4.88,"b":5.8},{"s":4,"t":4.94,"b":-3.45},{"s":4,"t":5.05,"b":5.8},
{"s":4,"t":5.1,"b":0.5},{"s":4,"t":5.14,"b":0.6},{"s":4,"t":5.2,"b":0.45},{"s":4,"t":5.27,"b":0.3},{"s":4,"t":5.37,"b":0.1},{"s":4,"t":5.47,"b":-0.05},{"s":4,"t":5.57,"b":-0.2},{"s":4,"t":5.6,"b":-0.22},

{"s":5,"t":-0.5,"b":0.12},{"s":5,"t":-0.45,"b":-0.05},{"s":5,"t":-0.4,"b":0},{"s":5,"t":-0.35,"b":-0.15},{"s":5,"t":-0.3,"b":0.08},{"s":5,"t":-0.25,"b":0.15},{"s":5,"t":-0.2,"b":-0.05},{"s":5,"t":-0.15,"b":0.05},{"s":5,"t":-0.1,"b":-0.15},{"s":5,"t":-0.05,"b":0.05},{"s":5,"t":0,"b":0.12},
{"s":5,"t":0.01,"b":0},{"s":5,"t":0.015,"b":3.3},{"s":5,"t":0.06,"b":4.9},{"s":5,"t":0.1,"b":4.6},{"s":5,"t":0.15,"b":0.3},{"s":5,"t":0.21,"b":1.9},
{"s":5,"t":0.31,"b":4.9},{"s":5,"t":0.37,"b":-0.1},{"s":5,"t":0.52,"b":4.8},{"s":5,"t":0.58,"b":-0.2},{"s":5,"t":0.71,"b":4.8},{"s":5,"t":0.77,"b":-0.1},{"s":5,"t":0.89,"b":4.9},{"s":5,"t":0.95,"b":-0.2},{"s":5,"t":1.07,"b":4.8},{"s":5,"t":1.13,"b":-0.2},{"s":5,"t":1.25,"b":4.9},{"s":5,"t":1.31,"b":-0.3},{"s":5,"t":1.44,"b":5},{"s":5,"t":1.5,"b":-0.5},{"s":5,"t":1.61,"b":5.3},{"s":5,"t":1.67,"b":-1},{"s":5,"t":1.8,"b":5.5},{"s":5,"t":1.86,"b":-1.2},{"s":5,"t":1.98,"b":5.6},{"s":5,"t":2.04,"b":-1.3},{"s":5,"t":2.16,"b":5.65},{"s":5,"t":2.22,"b":-1.8},{"s":5,"t":2.35,"b":5.8},{"s":5,"t":2.41,"b":-2.2},{"s":5,"t":2.54,"b":5.9},{"s":5,"t":2.6,"b":-2.7},{"s":5,"t":2.72,"b":5.9},{"s":5,"t":2.78,"b":-2.6},{"s":5,"t":2.9,"b":5.9},{"s":5,"t":2.96,"b":-2.7},{"s":5,"t":3.08,"b":5.95},{"s":5,"t":3.14,"b":-2.5},{"s":5,"t":3.27,"b":5.9},{"s":5,"t":3.33,"b":-2.55},{"s":5,"t":3.45,"b":5.9},{"s":5,"t":3.51,"b":-2.7},{"s":5,"t":3.63,"b":5.9},{"s":5,"t":3.69,"b":-2.85},{"s":5,"t":3.81,"b":5.9},{"s":5,"t":3.87,"b":-3},{"s":5,"t":3.98,"b":5.95},{"s":5,"t":4.04,"b":-3.1},{"s":5,"t":4.17,"b":5.9},{"s":5,"t":4.23,"b":-3.05},{"s":5,"t":4.34,"b":5.9},{"s":5,"t":4.4,"b":-3.15},{"s":5,"t":4.52,"b":5.9},{"s":5,"t":4.58,"b":-3.25},{"s":5,"t":4.7,"b":5.9},{"s":5,"t":4.76,"b":-3.5},{"s":5,"t":4.88,"b":5.9},{"s":5,"t":4.94,"b":-3.55},{"s":5,"t":5.05,"b":5.9},
{"s":5,"t":5.1,"b":0.35},{"s":5,"t":5.13,"b":0.45},{"s":5,"t":5.19,"b":0.35},{"s":5,"t":5.26,"b":0.25},{"s":5,"t":5.36,"b":0.05},{"s":5,"t":5.46,"b":-0.1},{"s":5,"t":5.56,"b":-0.25},{"s":5,"t":5.6,"b":-0.28},

{"s":6,"t":-0.5,"b":0.1},{"s":6,"t":-0.45,"b":0},{"s":6,"t":-0.4,"b":-0.12},{"s":6,"t":-0.35,"b":0.05},{"s":6,"t":-0.3,"b":0.15},{"s":6,"t":-0.25,"b":-0.05},{"s":6,"t":-0.2,"b":0},{"s":6,"t":-0.15,"b":0.14},{"s":6,"t":-0.1,"b":-0.1},{"s":6,"t":-0.05,"b":0},{"s":6,"t":0,"b":0.1},
{"s":6,"t":0.03,"b":-0.05},{"s":6,"t":0.035,"b":4},{"s":6,"t":0.09,"b":5},{"s":6,"t":0.13,"b":5.2},{"s":6,"t":0.17,"b":0.6},{"s":6,"t":0.23,"b":2.2},{"s":6,"t":0.29,"b":3.4},
{"s":6,"t":0.37,"b":5},{"s":6,"t":0.43,"b":-0.3},{"s":6,"t":0.58,"b":4.9},{"s":6,"t":0.64,"b":-0.4},{"s":6,"t":0.77,"b":4.9},{"s":6,"t":0.83,"b":-0.3},{"s":6,"t":0.95,"b":5},{"s":6,"t":1.01,"b":-0.4},{"s":6,"t":1.09,"b":4.9},{"s":6,"t":1.15,"b":-0.4},{"s":6,"t":1.27,"b":5},{"s":6,"t":1.33,"b":-0.5},{"s":6,"t":1.46,"b":5.1},{"s":6,"t":1.52,"b":-0.7},{"s":6,"t":1.63,"b":5.4},{"s":6,"t":1.69,"b":-1.2},{"s":6,"t":1.81,"b":5.55},{"s":6,"t":1.87,"b":-1.3},{"s":6,"t":1.98,"b":5.65},{"s":6,"t":2.04,"b":-1.3},{"s":6,"t":2.16,"b":5.7},{"s":6,"t":2.22,"b":-1.8},{"s":6,"t":2.35,"b":5.85},{"s":6,"t":2.41,"b":-2.2},{"s":6,"t":2.54,"b":5.95},{"s":6,"t":2.6,"b":-2.7},{"s":6,"t":2.72,"b":5.95},{"s":6,"t":2.78,"b":-2.6},{"s":6,"t":2.9,"b":5.95},{"s":6,"t":2.96,"b":-2.7},{"s":6,"t":3.08,"b":6},{"s":6,"t":3.14,"b":-2.5},{"s":6,"t":3.27,"b":5.95},{"s":6,"t":3.33,"b":-2.55},{"s":6,"t":3.45,"b":5.95},{"s":6,"t":3.51,"b":-2.7},{"s":6,"t":3.63,"b":5.95},{"s":6,"t":3.69,"b":-2.85},{"s":6,"t":3.81,"b":5.95},{"s":6,"t":3.87,"b":-3},{"s":6,"t":3.98,"b":6},{"s":6,"t":4.04,"b":-3.1},{"s":6,"t":4.17,"b":5.95},{"s":6,"t":4.23,"b":-3.05},{"s":6,"t":4.34,"b":5.95},{"s":6,"t":4.4,"b":-3.15},{"s":6,"t":4.52,"b":5.95},{"s":6,"t":4.58,"b":-3.25},{"s":6,"t":4.7,"b":5.95},{"s":6,"t":4.76,"b":-3.5},{"s":6,"t":4.88,"b":5.95},{"s":6,"t":4.94,"b":-3.55},{"s":6,"t":5.05,"b":5.95},
{"s":6,"t":5.1,"b":0.4},{"s":6,"t":5.14,"b":0.55},{"s":6,"t":5.2,"b":0.4},{"s":6,"t":5.28,"b":0.25},{"s":6,"t":5.38,"b":0.1},{"s":6,"t":5.48,"b":-0.05},{"s":6,"t":5.58,"b":-0.2},{"s":6,"t":5.6,"b":-0.22}
]
},
"vconcat":[
{
"width":727,"height":412,
"resolve":{"axis":{"x":"independent","y":"independent"}},
"layer":[
{"data":{"name":"a"},"transform":[{"filter":"datum.s <= 3"}],
"mark":{"type":"line","stroke":"black","strokeWidth":1.3,"clip":true},
"encoding":{
"x":{"field":"t","type":"quantitative","scale":{"domain":[-0.5,5.558],"nice":false,"zero":false},"axis":{"orient":"bottom","values":[0,1,2,3,4,5],"tickSize":-20,"labels":false,"title":null}},
"y":{"field":"b","type":"quantitative","scale":{"domain":[-5.08,8.77],"nice":false,"zero":false},"axis":{"orient":"left","values":[-4,-2,0,2,4,6,8],"tickSize":-20,"labelPadding":45,"title":"Bₓ  (Gauss)","titleX":-88,"titleY":211,"titleAngle":-90,"titleAlign":"center","titleBaseline":"middle"}},
"detail":{"field":"s"}}},
{"data":{"name":"a"},"transform":[{"filter":"datum.s > 3"}],
"mark":{"type":"line","stroke":"black","strokeWidth":1.3,"clip":true},
"encoding":{
"x":{"field":"t","type":"quantitative","scale":{"domain":[-0.5,5.558],"nice":false,"zero":false},"axis":{"orient":"bottom","values":[-0.4,-0.3,-0.2,-0.1,0.1,0.2,0.3,0.4,0.5,0.6,0.7,0.8,0.9,1.1,1.2,1.3,1.4,1.5,1.6,1.7,1.8,1.9,2.1,2.2,2.3,2.4,2.5,2.6,2.7,2.8,2.9,3.1,3.2,3.3,3.4,3.5,3.6,3.7,3.8,3.9,4.1,4.2,4.3,4.4,4.5,4.6,4.7,4.8,4.9,5.1,5.2,5.3,5.4,5.5],"tickSize":-11,"labels":false,"title":null}},
"y":{"field":"b","type":"quantitative","scale":{"domain":[-5.08,8.77],"nice":false,"zero":false},"axis":{"orient":"left","values":[-4.5,-3.5,-3,-2.5,-1.5,-1,-0.5,0.5,1,1.5,2.5,3,3.5,4.5,5,5.5,6.5,7,7.5,8.5],"tickSize":-11,"labels":false,"title":null}},
"detail":{"field":"s"}}},
{"data":{"values":[{"t":0,"b":-3.62,"label":"(a)"}]},
"mark":{"type":"text","fontSize":40,"fontWeight":"bold","fontStyle":"italic","align":"center","baseline":"middle"},
"encoding":{
"x":{"field":"t","type":"quantitative","scale":{"domain":[-0.5,5.558],"nice":false,"zero":false},"axis":{"orient":"top","values":[0,1,2,3,4,5],"tickSize":-22,"labels":false,"title":null}},
"y":{"field":"b","type":"quantitative","scale":{"domain":[-5.08,8.77],"nice":false,"zero":false},"axis":{"orient":"right","values":[-4,-2,0,2,4,6,8],"tickSize":-20,"labels":false,"title":null}},
"text":{"field":"label"}}},
{"data":{"values":[{"t":5.27,"b":6.76,"label":"Standard Trigger"}]},
"mark":{"type":"text","fontSize":40,"fontWeight":"bold","align":"right","baseline":"alphabetic"},
"encoding":{
"x":{"field":"t","type":"quantitative","scale":{"domain":[-0.5,5.558],"nice":false,"zero":false},"axis":{"orient":"top","values":[-0.4,-0.3,-0.2,-0.1,0.1,0.2,0.3,0.4,0.5,0.6,0.7,0.8,0.9,1.1,1.2,1.3,1.4,1.5,1.6,1.7,1.8,1.9,2.1,2.2,2.3,2.4,2.5,2.6,2.7,2.8,2.9,3.1,3.2,3.3,3.4,3.5,3.6,3.7,3.8,3.9,4.1,4.2,4.3,4.4,4.5,4.6,4.7,4.8,4.9,5.1,5.2,5.3,5.4,5.5],"tickSize":-12,"labels":false,"title":null}},
"y":{"field":"b","type":"quantitative","scale":{"domain":[-5.08,8.77],"nice":false,"zero":false},"axis":{"orient":"right","values":[-4.5,-3.5,-3,-2.5,-1.5,-1,-0.5,0.5,1,1.5,2.5,3,3.5,4.5,5,5.5,6.5,7,7.5,8.5],"tickSize":-11,"labels":false,"title":null}},
"text":{"field":"label"}}}
]},
{
"width":727,"height":412,
"resolve":{"axis":{"x":"independent","y":"independent"}},
"layer":[
{"data":{"name":"b"},"transform":[{"filter":"datum.s <= 3"}],
"mark":{"type":"line","stroke":"black","strokeWidth":1.3,"clip":true},
"encoding":{
"x":{"field":"t","type":"quantitative","scale":{"domain":[-0.5,5.558],"nice":false,"zero":false},"axis":{"orient":"bottom","values":[0,1,2,3,4,5],"tickSize":-20,"labelPadding":22,"title":"Time (ms)","titleFontSize":38,"titleX":363.5,"titleY":75,"titleAlign":"center","titleBaseline":"alphabetic"}},
"y":{"field":"b","type":"quantitative","scale":{"domain":[-5.08,8.77],"nice":false,"zero":false},"axis":{"orient":"left","values":[-4,-2,0,2,4,6,8],"tickSize":-20,"labelPadding":45,"title":"Bₓ  (Gauss)","titleX":-88,"titleY":211,"titleAngle":-90,"titleAlign":"center","titleBaseline":"middle"}},
"detail":{"field":"s"}}},
{"data":{"name":"b"},"transform":[{"filter":"datum.s > 3"}],
"mark":{"type":"line","stroke":"black","strokeWidth":1.3,"clip":true},
"encoding":{
"x":{"field":"t","type":"quantitative","scale":{"domain":[-0.5,5.558],"nice":false,"zero":false},"axis":{"orient":"bottom","values":[-0.4,-0.3,-0.2,-0.1,0.1,0.2,0.3,0.4,0.5,0.6,0.7,0.8,0.9,1.1,1.2,1.3,1.4,1.5,1.6,1.7,1.8,1.9,2.1,2.2,2.3,2.4,2.5,2.6,2.7,2.8,2.9,3.1,3.2,3.3,3.4,3.5,3.6,3.7,3.8,3.9,4.1,4.2,4.3,4.4,4.5,4.6,4.7,4.8,4.9,5.1,5.2,5.3,5.4,5.5],"tickSize":-11,"labels":false,"title":null}},
"y":{"field":"b","type":"quantitative","scale":{"domain":[-5.08,8.77],"nice":false,"zero":false},"axis":{"orient":"left","values":[-4.5,-3.5,-3,-2.5,-1.5,-1,-0.5,0.5,1,1.5,2.5,3,3.5,4.5,5,5.5,6.5,7,7.5,8.5],"tickSize":-11,"labels":false,"title":null}},
"detail":{"field":"s"}}},
{"data":{"values":[{"t":0,"b":-3.8,"label":"(b)"}]},
"mark":{"type":"text","fontSize":40,"fontWeight":"bold","fontStyle":"italic","align":"center","baseline":"middle"},
"encoding":{
"x":{"field":"t","type":"quantitative","scale":{"domain":[-0.5,5.558],"nice":false,"zero":false},"axis":{"orient":"top","values":[0,1,2,3,4,5],"tickSize":-22,"labels":false,"title":null}},
"y":{"field":"b","type":"quantitative","scale":{"domain":[-5.08,8.77],"nice":false,"zero":false},"axis":{"orient":"right","values":[-4,-2,0,2,4,6,8],"tickSize":-20,"labels":false,"title":null}},
"text":{"field":"label"}}},
{"data":{"values":[{"t":5.27,"b":6.66,"label":"Conditional Trigger"}]},
"mark":{"type":"text","fontSize":40,"fontWeight":"bold","align":"right","baseline":"alphabetic"},
"encoding":{
"x":{"field":"t","type":"quantitative","scale":{"domain":[-0.5,5.558],"nice":false,"zero":false},"axis":{"orient":"top","values":[-0.4,-0.3,-0.2,-0.1,0.1,0.2,0.3,0.4,0.5,0.6,0.7,0.8,0.9,1.1,1.2,1.3,1.4,1.5,1.6,1.7,1.8,1.9,2.1,2.2,2.3,2.4,2.5,2.6,2.7,2.8,2.9,3.1,3.2,3.3,3.4,3.5,3.6,3.7,3.8,3.9,4.1,4.2,4.3,4.4,4.5,4.6,4.7,4.8,4.9,5.1,5.2,5.3,5.4,5.5],"tickSize":-12,"labels":false,"title":null}},
"y":{"field":"b","type":"quantitative","scale":{"domain":[-5.08,8.77],"nice":false,"zero":false},"axis":{"orient":"right","values":[-4.5,-3.5,-3,-2.5,-1.5,-1,-0.5,0.5,1,1.5,2.5,3,3.5,4.5,5,5.5,6.5,7,7.5,8.5],"tickSize":-11,"labels":false,"title":null}},
"text":{"field":"label"}}},
{"data":{"values":[{"t":0.79,"b":-1.45,"label":"Decorellated"}]},
"mark":{"type":"text","fontSize":27,"fontWeight":"bold","align":"center","baseline":"middle","angle":14},
"encoding":{
"x":{"field":"t","type":"quantitative","scale":{"domain":[-0.5,5.558],"nice":false,"zero":false},"axis":null},
"y":{"field":"b","type":"quantitative","scale":{"domain":[-5.08,8.77],"nice":false,"zero":false},"axis":null},
"text":{"field":"label"}}},
{"data":{"values":[{"t":1.9,"t2":3.18,"b":-3.93},{"t":3.64,"t2":4.9,"b":-3.93}]},
"mark":{"type":"rule","stroke":"black","strokeWidth":5},
"encoding":{
"x":{"field":"t","type":"quantitative","scale":{"domain":[-0.5,5.558],"nice":false,"zero":false},"axis":null},
"x2":{"field":"t2"},
"y":{"field":"b","type":"quantitative","scale":{"domain":[-5.08,8.77],"nice":false,"zero":false},"axis":null}}},
{"data":{"values":[{"t":1.88,"b":-3.93,"sh":"triangle-left"},{"t":4.91,"b":-3.93,"sh":"triangle-right"}]},
"mark":{"type":"point","filled":true,"color":"black","opacity":1,"size":450},
"encoding":{
"x":{"field":"t","type":"quantitative","scale":{"domain":[-0.5,5.558],"nice":false,"zero":false},"axis":null},
"y":{"field":"b","type":"quantitative","scale":{"domain":[-5.08,8.77],"nice":false,"zero":false},"axis":null},
"shape":{"field":"sh","type":"nominal","scale":null,"legend":null}}},
{"data":{"values":[{"t":3.41,"b":-3.93,"label":"t₀"}]},
"mark":{"type":"text","fontSize":38,"fontWeight":"bold","fontStyle":"italic","align":"center","baseline":"middle"},
"encoding":{
"x":{"field":"t","type":"quantitative","scale":{"domain":[-0.5,5.558],"nice":false,"zero":false},"axis":null},
"y":{"field":"b","type":"quantitative","scale":{"domain":[-5.08,8.77],"nice":false,"zero":false},"axis":null},
"text":{"field":"label"}}}
]}
]
}
